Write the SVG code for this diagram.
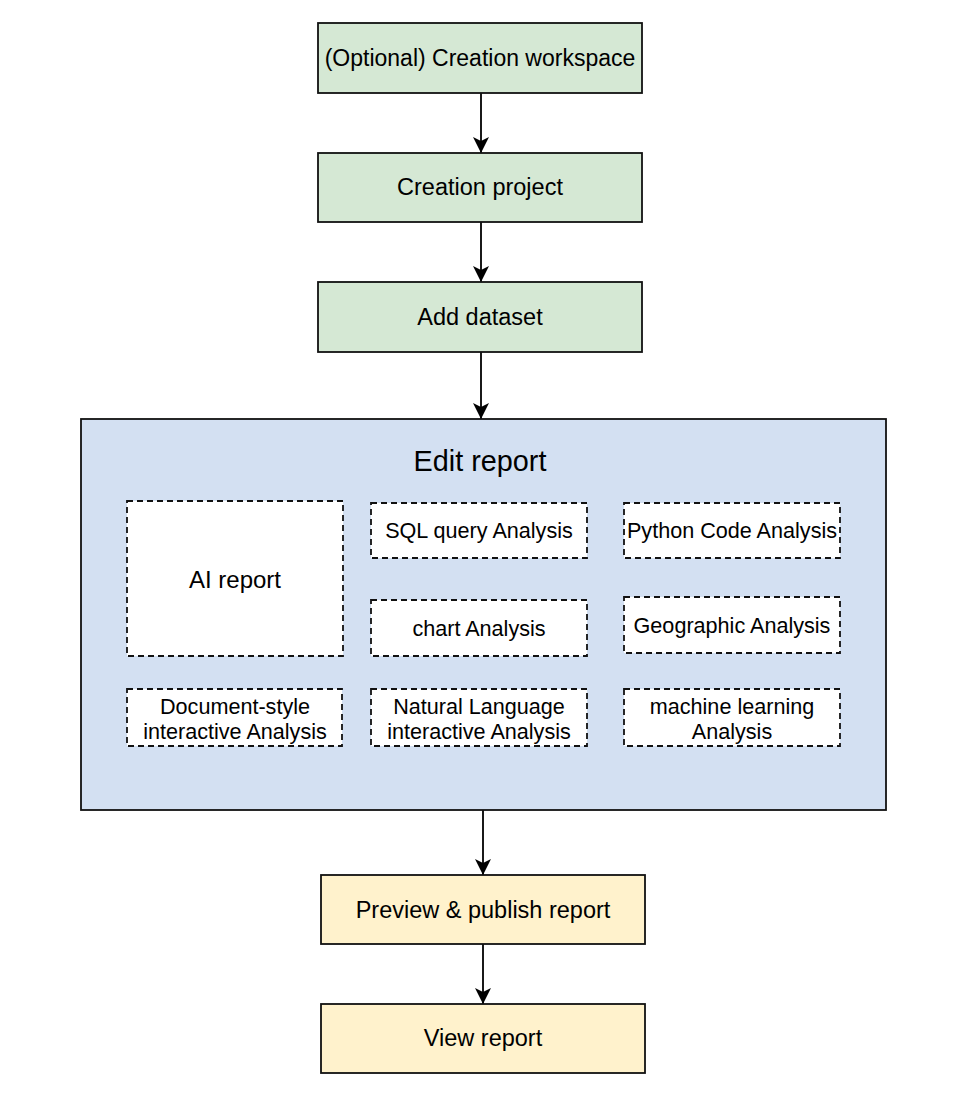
<svg xmlns="http://www.w3.org/2000/svg" width="960" height="1104" viewBox="0 0 960 1104">
<style>
text{font-family:"Liberation Sans",Arial,sans-serif;fill:#000;text-anchor:middle;dominant-baseline:central}
.g{fill:#d5e8d4;stroke:#111;stroke-width:1.8}
.y{fill:#fff2cc;stroke:#111;stroke-width:1.8}
.c{fill:#d3e0f2;stroke:#111;stroke-width:1.8}
.d{fill:#fff;stroke:#111;stroke-width:1.8;stroke-dasharray:6 4}
.t{font-size:23.5px}
.s{font-size:21.6px}
.e{stroke:#000;stroke-width:1.8;fill:none;marker-end:url(#ah)}
</style>
<defs>
<marker id="ah" viewBox="0 0 16 16" refX="16" refY="8" markerWidth="16" markerHeight="16" markerUnits="userSpaceOnUse" orient="auto"><path d="M0,0 L16,8 L0,16 L4,8 Z" fill="#000"/></marker>
</defs>
<rect width="960" height="1104" fill="#fff"/>
<g id="connectors">
<path class="e" d="M481,93 V153"/>
<path class="e" d="M481,222 V282"/>
<path class="e" d="M481,352 V419"/>
<path class="e" d="M483,810 V875"/>
<path class="e" d="M483,944 V1004"/>
</g>
<g id="workspace"><rect class="g" x="318" y="23" width="324" height="70"/><text x="480" y="58" style="font-size:23px">(Optional) Creation workspace</text></g>
<g id="project"><rect class="g" x="318" y="153" width="324" height="69"/><text class="t" x="480" y="187">Creation project</text></g>
<g id="dataset"><rect class="g" x="318" y="282" width="324" height="70"/><text class="t" x="480" y="317">Add dataset</text></g>
<g id="edit"><rect class="c" x="81" y="419" width="805" height="391"/><text x="480" y="461" style="font-size:28.8px">Edit report</text></g>
<g id="ai"><rect class="d" x="127" y="501" width="216" height="155"/><text x="235" y="579" style="font-size:24px">AI report</text></g>
<g id="sql"><rect class="d" x="371" y="503" width="216" height="55"/><text class="s" x="479" y="530">SQL query Analysis</text></g>
<g id="python"><rect class="d" x="624" y="503" width="216" height="55"/><text class="s" x="732" y="530">Python Code Analysis</text></g>
<g id="chart"><rect class="d" x="371" y="600" width="216" height="56"/><text class="s" x="479" y="628">chart Analysis</text></g>
<g id="geo"><rect class="d" x="624" y="597" width="216" height="56"/><text class="s" x="732" y="625">Geographic Analysis</text></g>
<g id="doc"><rect class="d" x="127" y="689" width="215" height="57"/><text class="s" x="235" y="706">Document-style</text><text class="s" x="235" y="731">interactive Analysis</text></g>
<g id="nl"><rect class="d" x="371" y="689" width="216" height="57"/><text class="s" x="479" y="706">Natural Language</text><text class="s" x="479" y="731">interactive Analysis</text></g>
<g id="ml"><rect class="d" x="624" y="689" width="216" height="57"/><text class="s" x="732" y="706">machine learning</text><text class="s" x="732" y="731">Analysis</text></g>
<g id="preview"><rect class="y" x="321" y="875" width="324" height="69"/><text class="t" x="483" y="910">Preview &amp; publish report</text></g>
<g id="view"><rect class="y" x="321" y="1004" width="324" height="69"/><text class="t" x="483" y="1038">View report</text></g>
</svg>
